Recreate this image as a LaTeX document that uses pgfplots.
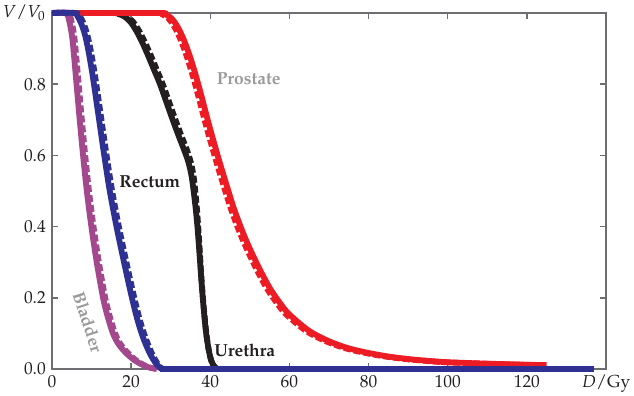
\documentclass[border=0pt]{standalone}
\usepackage[T1]{fontenc}
\usepackage{mathpazo}
\usepackage{pgfplots}
\pgfplotsset{compat=1.18}
\definecolor{cred}{HTML}{ED1C24}
\definecolor{cblack}{HTML}{231F20}
\definecolor{cblue}{HTML}{2E3192}
\definecolor{cpurple}{HTML}{A3488C}
\definecolor{labelgray}{HTML}{9A9A9A}
\definecolor{axisgray}{HTML}{6D6E71}
\begin{document}
\fontsize{8.7pt}{10pt}\selectfont
\begin{tikzpicture}
\begin{axis}[
  scale only axis, width=277pt, height=178pt,
  xmin=0, xmax=140, ymin=0, ymax=1,
  xtick={0,20,40,60,80,100,120,140},
  xticklabels={0,20,40,60,80,100,120,$D/\mathrm{Gy}$},
  ytick={0,0.2,0.4,0.6,0.8,1},
  yticklabels={0.0,0.2,0.4,0.6,0.8,$V/V_0$},
  tick align=inside, major tick length=3pt,
  axis line style={draw=axisgray, line width=0.75pt},
  every tick/.style={draw=axisgray, line width=0.75pt},
  tick label style={text=cblack},
  clip=false,
  every axis plot/.append style={line width=2.9pt, line join=round, smooth, tension=0.5},
  dsh/.style={dash pattern=on 3.5pt off 1.5pt, line cap=butt},
]
% Urethra
\addplot[cblack, dsh] coordinates {(0,1)(15.5,1)(17.4,0.997)(19.0,0.99)(20.5,0.975)(21.9,0.952)(23.4,0.92)(25.0,0.88)(26.5,0.84)(28.0,0.80)(29.6,0.75)(31.2,0.70)(32.7,0.655)(34.1,0.615)(35.1,0.58)(35.8,0.54)(36.3,0.49)(36.65,0.447)(36.95,0.40)(37.25,0.35)(37.8,0.25)(38.3,0.18)(38.9,0.11)(39.5,0.06)(40.2,0.025)(41,0.007)(41.8,0)};
\addplot[cblack] coordinates {(0,1)(15,1)(16.8,0.997)(18.3,0.99)(19.8,0.975)(21.2,0.952)(22.7,0.92)(24.3,0.88)(25.8,0.84)(27.3,0.80)(28.9,0.75)(30.5,0.70)(32.0,0.655)(33.4,0.615)(34.5,0.58)(35.3,0.54)(35.9,0.49)(36.35,0.447)(36.75,0.40)(37.1,0.35)(37.75,0.25)(38.25,0.18)(38.85,0.11)(39.5,0.06)(40.2,0.025)(41,0.007)(41.8,0)};
% Prostate
\addplot[cred, dsh] coordinates {(0,1)(26,1)(27.7,0.997)(29.4,0.985)(31.0,0.96)(32.5,0.925)(34.0,0.88)(35.4,0.83)(36.8,0.774)(39.0,0.681)(41.4,0.587)(43.5,0.51)(45.2,0.45)(47.2,0.39)(49.1,0.34)(51.7,0.28)(54.2,0.228)(56.7,0.187)(59.2,0.153)(64.2,0.107)(69.2,0.078)(74.2,0.058)(79.2,0.045)(84.2,0.035)(89.2,0.028)(94.2,0.023)(99.2,0.019)(109.2,0.015)(119.2,0.012)(124.5,0.011)};
\addplot[cred] coordinates {(0,1)(26.5,1)(28.5,0.997)(30.2,0.985)(31.8,0.96)(33.3,0.925)(34.8,0.88)(36.2,0.83)(37.6,0.774)(39.8,0.681)(42.2,0.587)(44.3,0.51)(46.0,0.45)(48.0,0.39)(49.9,0.34)(52.5,0.28)(55,0.228)(57.5,0.187)(60,0.153)(65,0.107)(70,0.078)(75,0.058)(80,0.045)(85,0.035)(90,0.028)(95,0.023)(100,0.019)(110,0.015)(120,0.012)(125,0.011)};
% Bladder
\addplot[cpurple, dsh] coordinates {(0,1)(4.0,1)(4.85,0.98)(5.55,0.94)(5.95,0.9)(6.75,0.8)(7.55,0.7)(8.4,0.6)(9.35,0.5)(10.5,0.4)(11.85,0.3)(13.45,0.2)(14.55,0.15)(15.95,0.1)(17.3,0.07)(19.2,0.045)(21.2,0.025)(23.1,0.012)(24.8,0.004)(26.6,0)};
\addplot[cpurple] coordinates {(0,1)(3.5,1)(4.3,0.98)(5.0,0.94)(5.4,0.9)(6.2,0.8)(7.0,0.7)(7.85,0.6)(8.8,0.5)(9.95,0.4)(11.3,0.3)(12.9,0.2)(14.0,0.15)(15.4,0.1)(16.8,0.07)(18.7,0.045)(20.8,0.025)(22.8,0.012)(24.6,0.004)(26.5,0)};
% Rectum
\addplot[cblue, dsh] coordinates {(0,1)(6.0,1)(7.1,0.99)(8.0,0.97)(8.9,0.94)(9.7,0.9)(10.5,0.85)(11.2,0.8)(12.5,0.7)(13.8,0.6)(15.2,0.5)(16.9,0.4)(18.8,0.3)(20.8,0.2)(22.4,0.13)(23.9,0.08)(25.4,0.04)(26.7,0.015)(27.8,0)};
\addplot[cblue] coordinates {(0,1)(5.5,1)(6.5,0.99)(7.4,0.97)(8.3,0.94)(9.1,0.9)(9.9,0.85)(10.6,0.8)(11.9,0.7)(13.2,0.6)(14.6,0.5)(16.3,0.4)(18.2,0.3)(20.2,0.2)(21.8,0.13)(23.3,0.08)(24.9,0.04)(26.3,0.015)(27.6,0)};
\addplot[cblue, sharp plot] coordinates {(27.4,0)(137,0)};
% labels
\node[font=\bfseries, text=labelgray] at (axis cs:49.7,0.815) {Prostate};
\node[font=\bfseries, text=cblack] at (axis cs:24.7,0.525) {Rectum};
\node[font=\bfseries, text=cblack] at (axis cs:48.7,0.053) {Urethra};
\node[font=\bfseries, text=labelgray, rotate=-72] at (axis cs:9.1,0.132) {Bladder};
\end{axis}
\pgfresetboundingbox
\path[use as bounding box] (-26pt,-13.5pt) rectangle (291pt,184.5pt);
\end{tikzpicture}
\end{document}
